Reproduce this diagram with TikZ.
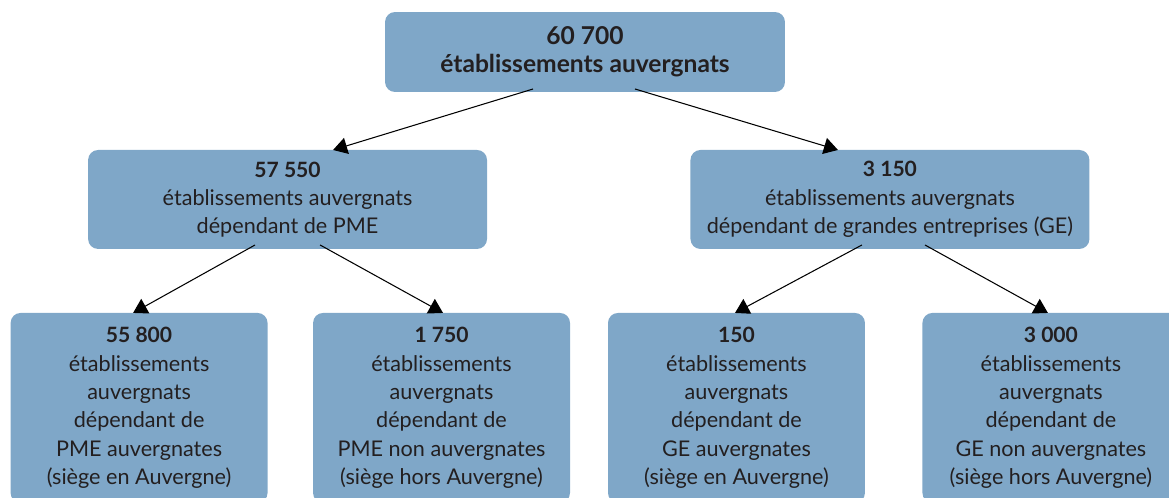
\documentclass[tikz,border=0pt]{standalone}
\usepackage{fontspec}
\setmainfont{Lato}
\usepackage{tikz}
\definecolor{box_blue}{HTML}{7FA7C8}
\definecolor{box_text}{HTML}{231F20}
\usetikzlibrary{positioning,arrows.meta}

\begin{document}
\begin{tikzpicture}[
        x=0.02cm, y=-0.02cm,
        every node/.style={font=\fontsize{12.3}{16.1}\selectfont, text=box_text},
        box/.style={fill=box_blue, rounded corners=0.2cm, outer sep=0pt, align=center},
        rootbox/.style={box, minimum width=8cm, minimum height=1.6cm, font=\fontsize{14}{16}\selectfont\bfseries},
        midbox/.style={box, minimum width=7.98cm, minimum height=1.98cm},
        leafbox/.style={box, minimum width=5.14cm, minimum height=3.8cm},
        arr/.style={draw=black, line width=0.6pt, -{Triangle[length=0.28cm, width=0.33cm]}}
    ]
        \useasboundingbox (0,0) rectangle (1169,497);

        % total
        \node[rootbox] (total) at (585,52) {60 700\\établissements auvergnats};

        % PME / GE
        \node[midbox] (pme) [below=1.16cm of total, xshift=-5.95cm] {\textbf{\large 57 550}\\établissements auvergnats\\dépendant de PME};
        \node[midbox] (ge) [below=1.16cm of total, xshift=6.1cm] {\textbf{\large 3 150}\\établissements auvergnats\\dépendant de grandes entreprises (GE)};

        % by location of the head office
        \node[leafbox] (pmeIn) [below=1.28cm of pme, xshift=-2.97cm] {\textbf{\large 55 800}\\établissements\\auvergnats\\dépendant de\\PME auvergnates\\(siège en Auvergne)};
        \node[leafbox] (pmeOut) [below=1.28cm of pme, xshift=3.08cm] {\textbf{\large 1 750}\\établissements\\auvergnats\\dépendant de\\PME non auvergnates\\(siège hors Auvergne)};
        \node[leafbox] (geIn) [below=1.28cm of ge, xshift=-3.07cm] {\textbf{\large 150}\\établissements\\auvergnats\\dépendant de\\GE auvergnates\\(siège en Auvergne)};
        \node[leafbox] (geOut) [below=1.28cm of ge, xshift=3.22cm] {\textbf{\large 3 000}\\établissements\\auvergnats\\dépendant de\\GE non auvergnates\\(siège hors Auvergne)};

        \draw[arr] ([xshift=-1.04cm, yshift=0.06cm]total.south) -- ([xshift=0.91cm]pme.north);
        \draw[arr] ([xshift=1cm, yshift=0.06cm]total.south) -- ([xshift=-1.04cm]ge.north);
        \draw[arr] ([xshift=-0.65cm, yshift=0.08cm]pme.south) -- ([xshift=-0.12cm]pmeIn.north);
        \draw[arr] ([xshift=0.65cm, yshift=0.08cm]pme.south) -- ([xshift=0.03cm]pmeOut.north);
        \draw[arr] ([xshift=-0.56cm, yshift=0.08cm]ge.south) -- ([xshift=-0.03cm]geIn.north);
        \draw[arr] ([xshift=0.7cm, yshift=0.08cm]ge.south) -- ([xshift=-0.06cm]geOut.north);
    \end{tikzpicture}
\end{document}
